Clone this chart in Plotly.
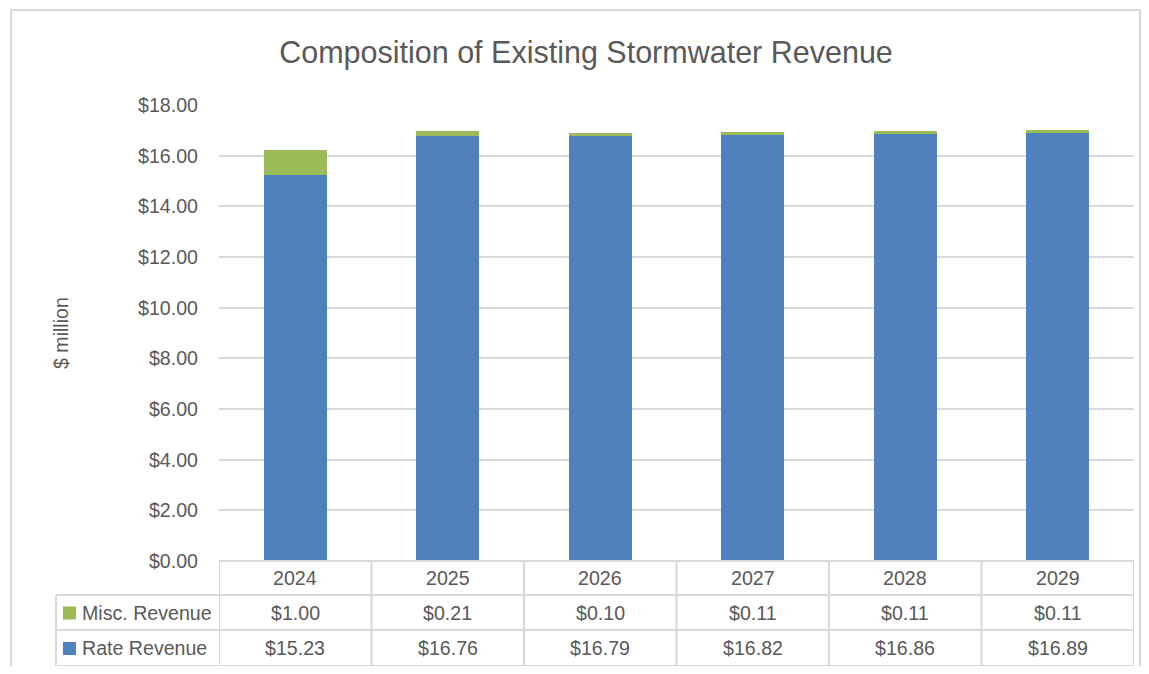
import plotly.graph_objects as go

years = ["2024", "2025", "2026", "2027", "2028", "2029"]
misc_revenue = [1.00, 0.21, 0.10, 0.11, 0.11, 0.11]
rate_revenue = [15.23, 16.76, 16.79, 16.82, 16.86, 16.89]
series_names = ["Misc. Revenue", "Rate Revenue"]
title_text = "Composition of Existing Stormwater Revenue"
y_title = "$ million"

BLUE = "#4F81BD"
GREEN = "#9BBB59"
GRID = "#D9D9D9"
TXT = "#595959"
FONT = "Liberation Sans, Arial, sans-serif"

OFF = 8  # page body margin
W, H = 1149 - 2 * OFF, 674 - 2 * OFF
SX0, SX1, SY0, SY1 = 219, 1134, 105, 561
L, R, T, B = SX0 - OFF, W - (SX1 - OFF), SY0 - OFF, H - (SY1 - OFF)
PW = SX1 - SX0
PH = SY1 - SY0


def px_x(px):
    return (px - SX0) / PW


def px_y(py):
    return (SY1 - py) / PH


fig = go.Figure()
fig.add_trace(go.Bar(x=years, y=rate_revenue, name=series_names[1],
                     marker=dict(color=BLUE, line=dict(width=0))))
fig.add_trace(go.Bar(x=years, y=misc_revenue, name=series_names[0],
                     marker=dict(color=GREEN, line=dict(width=0))))

shapes = []
annotations = []

row_tops = [561, 595, 630, 666]
label_left = 56
n = len(years)
TS = 19.6

shapes.append(dict(type="line", xref="paper", yref="paper", x0=0, x1=1,
                   y0=px_y(row_tops[0]), y1=px_y(row_tops[0]),
                   line=dict(color=GRID, width=2)))
for ry in row_tops[1:]:
    shapes.append(dict(type="line", xref="paper", yref="paper",
                       x0=px_x(label_left), x1=1, y0=px_y(ry), y1=px_y(ry),
                       line=dict(color=GRID, width=2)))
for i in range(n + 1):
    shapes.append(dict(type="line", xref="x", yref="paper", x0=i - 0.5, x1=i - 0.5,
                       y0=px_y(row_tops[0]), y1=px_y(row_tops[-1]),
                       line=dict(color=GRID, width=2)))
shapes.append(dict(type="line", xref="paper", yref="paper",
                   x0=px_x(label_left), x1=px_x(label_left),
                   y0=px_y(row_tops[1]), y1=px_y(row_tops[-1]),
                   line=dict(color=GRID, width=2)))

for i, yr in enumerate(years):
    annotations.append(dict(x=i, xref="x", yref="paper",
                            y=px_y((row_tops[0] + row_tops[1]) / 2), text=yr,
                            showarrow=False, font=dict(size=TS, color=TXT, family=FONT),
                            xanchor="center", yanchor="middle"))

rows = [(series_names[0], misc_revenue, GREEN), (series_names[1], rate_revenue, BLUE)]
for r, (name, vals, col) in enumerate(rows):
    top, bot = row_tops[r + 1], row_tops[r + 2]
    mid = (top + bot) / 2
    shapes.append(dict(type="rect", xref="paper", yref="paper",
                       x0=px_x(63), x1=px_x(76), y0=px_y(mid - 6), y1=px_y(mid + 7),
                       fillcolor=col, line=dict(width=0)))
    annotations.append(dict(x=px_x(80), xref="paper", yref="paper", y=px_y(mid),
                            text=name, showarrow=False, xanchor="left", yanchor="middle",
                            font=dict(size=TS, color=TXT, family=FONT)))
    for i, v in enumerate(vals):
        annotations.append(dict(x=i, xref="x", yref="paper", y=px_y(mid),
                                text="${:.2f}".format(v), showarrow=False,
                                xanchor="center", yanchor="middle",
                                font=dict(size=TS, color=TXT, family=FONT)))

annotations.append(dict(x=px_x(61), y=px_y(333), xref="paper", yref="paper",
                        text=y_title, textangle=-90, showarrow=False,
                        xanchor="center", yanchor="middle",
                        font=dict(size=TS, color=TXT, family=FONT)))

shapes.append(dict(type="rect", xref="paper", yref="paper",
                   x0=px_x(11), x1=px_x(1140), y0=px_y(690), y1=px_y(10),
                   line=dict(color=GRID, width=2), fillcolor="rgba(0,0,0,0)", layer="below"))

fig.update_layout(
    width=W, height=H,
    margin=dict(l=L, r=R, t=T, b=B),
    barmode="stack",
    bargap=0.59,
    showlegend=False,
    plot_bgcolor="white", paper_bgcolor="white",
    title=dict(text=title_text, x=px_x(586), xanchor="center", xref="paper",
               y=1 - (52 - OFF) / H, yanchor="middle",
               font=dict(size=30.5, color=TXT, family=FONT)),
    shapes=shapes,
    annotations=annotations,
    font=dict(family=FONT, color=TXT),
)
fig.update_xaxes(showticklabels=False, showgrid=False, zeroline=False, showline=False,
                 range=[-0.5, n - 0.5])
fig.update_yaxes(range=[0, 18], dtick=2, tickprefix="$", tickformat=".2f",
                 showgrid=True, gridcolor=GRID, gridwidth=2, zeroline=False, showline=False,
                 ticklabelstandoff=20, tickfont=dict(size=TS, color=TXT, family=FONT))

fig.write_html("out.html")
